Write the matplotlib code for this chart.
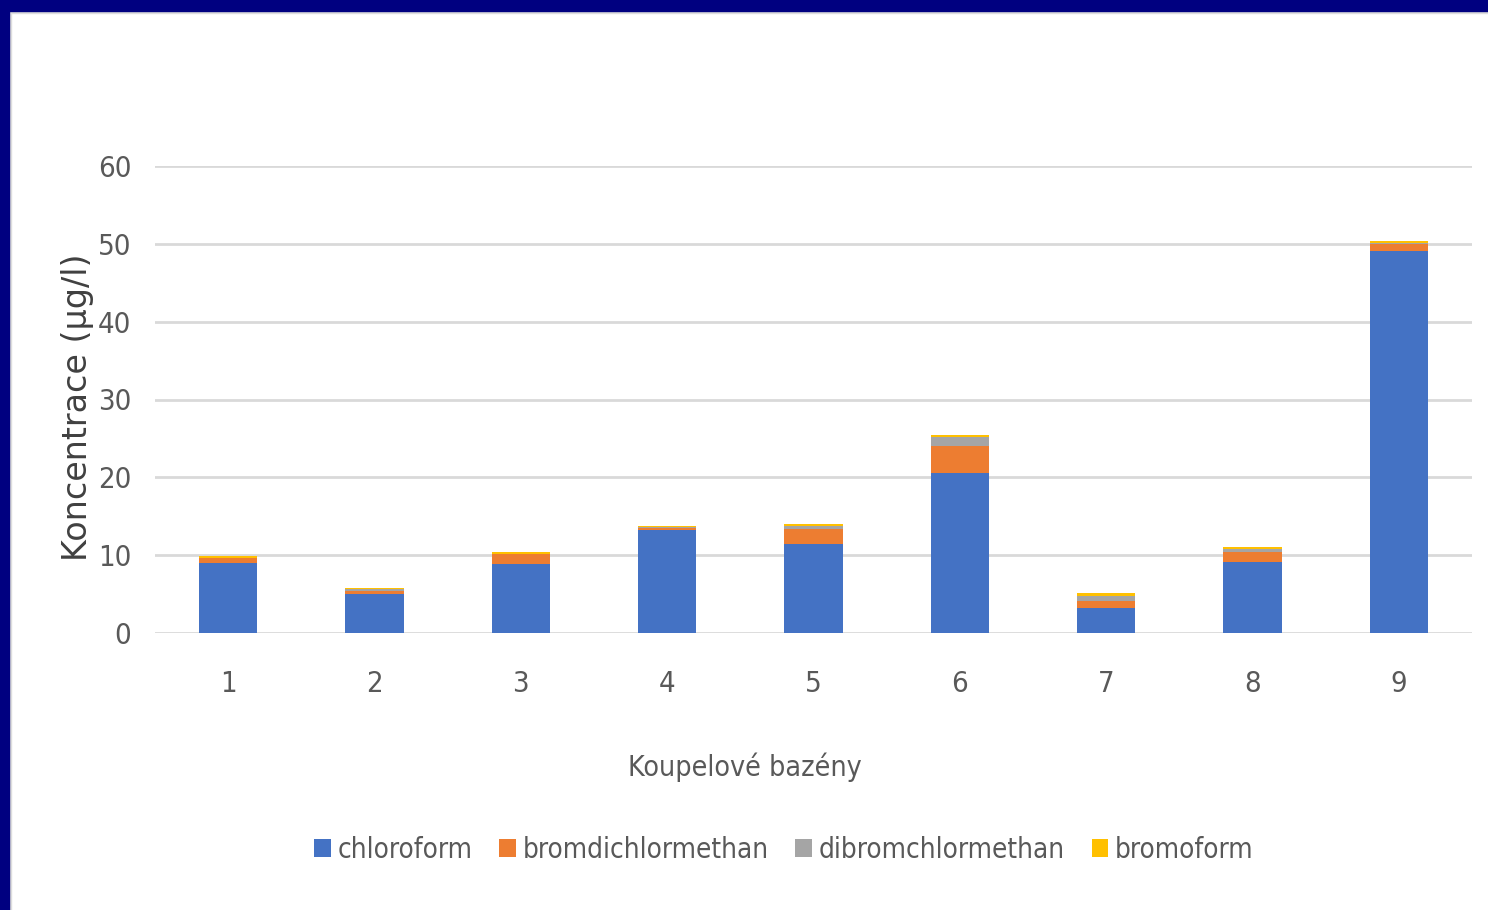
import matplotlib
matplotlib.use("Agg")
import matplotlib.pyplot as plt
from matplotlib.patches import Rectangle
from matplotlib import font_manager
import numpy as np

# THM concentrations in spa pools (ug/l)
pools = ['1', '2', '3', '4', '5', '6', '7', '8', '9']
chloroform = [9.0, 5.0, 8.9, 13.2, 11.4, 20.5, 3.2, 9.1, 49.1]
bromdichlormethan = [0.6, 0.4, 1.2, 0.3, 2.0, 3.55, 0.85, 1.3, 0.85]
dibromchlormethan = [0.1, 0.2, 0.05, 0.1, 0.35, 1.15, 0.75, 0.4, 0.1]
bromoform = [0.2, 0.2, 0.2, 0.2, 0.3, 0.2, 0.3, 0.25, 0.25]

series = [
    ('chloroform', chloroform, '#4472C4'),
    ('bromdichlormethan', bromdichlormethan, '#ED7D31'),
    ('dibromchlormethan', dibromchlormethan, '#A5A5A5'),
    ('bromoform', bromoform, '#FFC000'),
]

narrow = font_manager.FontProperties(family='DejaVu Sans', stretch='condensed', size=21)
txt_col = '#595959'

fig = plt.figure(figsize=(14.88, 9.10), dpi=100)
ax = fig.add_axes([155 / 1488, 1 - 633 / 910, (1472 - 155) / 1488, (633 - 166) / 910])

x = np.arange(len(pools))
bottom = np.zeros(len(pools))
handles = []
for name, vals, col in series:
    b = ax.bar(x, vals, 0.4, bottom=bottom, color=col, label=name, zorder=3)
    handles.append(b)
    bottom += np.array(vals)

ax.set_xlim(-0.5, len(pools) - 0.5)
ax.set_ylim(0, 60)
ax.set_yticks(np.arange(0, 61, 10))
ax.set_xticks(x)
ax.set_xticklabels(pools)
ax.grid(axis='y', color='#d9d9d9', linewidth=2, zorder=0)
ax.set_axisbelow(True)
for s in ax.spines.values():
    s.set_visible(False)
ax.tick_params(axis='both', length=0, labelcolor=txt_col)
ax.tick_params(axis='y', pad=17)
ax.tick_params(axis='x', pad=27)
for lab in ax.get_xticklabels() + ax.get_yticklabels():
    lab.set_fontproperties(narrow)

lab_font = narrow.copy()
lab_font.set_size(20.5)
fig.text(745 / 1488, 1 - 767 / 910, 'Koupelové bazény', ha='center', va='center',
         fontproperties=lab_font, color=txt_col)
fig.text(78 / 1488, 1 - 407 / 910, 'Koncentrace (µg/l)', rotation=90, ha='center', va='center',
         fontsize=24, color='#404040', family='DejaVu Sans')

leg_font = narrow.copy()
leg_font.set_size(20)
fig.legend(handles=handles, loc='center', bbox_to_anchor=(784 / 1488, 1 - 850 / 910), ncol=4,
           frameon=False, handlelength=0.6, handleheight=0.6, handletextpad=0.25, columnspacing=0.95,
           prop=leg_font, labelcolor=txt_col)

# slide frame
fig.patches.append(Rectangle((0, 1 - 11 / 910), 1, 11 / 910, transform=fig.transFigure,
                             color='#000080', zorder=10))
fig.patches.append(Rectangle((0, 0), 9 / 1488, 1, transform=fig.transFigure,
                             color='#000080', zorder=10))
fig.patches.append(Rectangle((9 / 1488, 0), 2 / 1488, 1 - 11 / 910, transform=fig.transFigure,
                             color='#dddddd', zorder=9))
fig.patches.append(Rectangle((9 / 1488, 1 - 13 / 910), 1, 2 / 910, transform=fig.transFigure,
                             color='#dddddd', zorder=9))

fig.savefig('out.png', dpi=100)
